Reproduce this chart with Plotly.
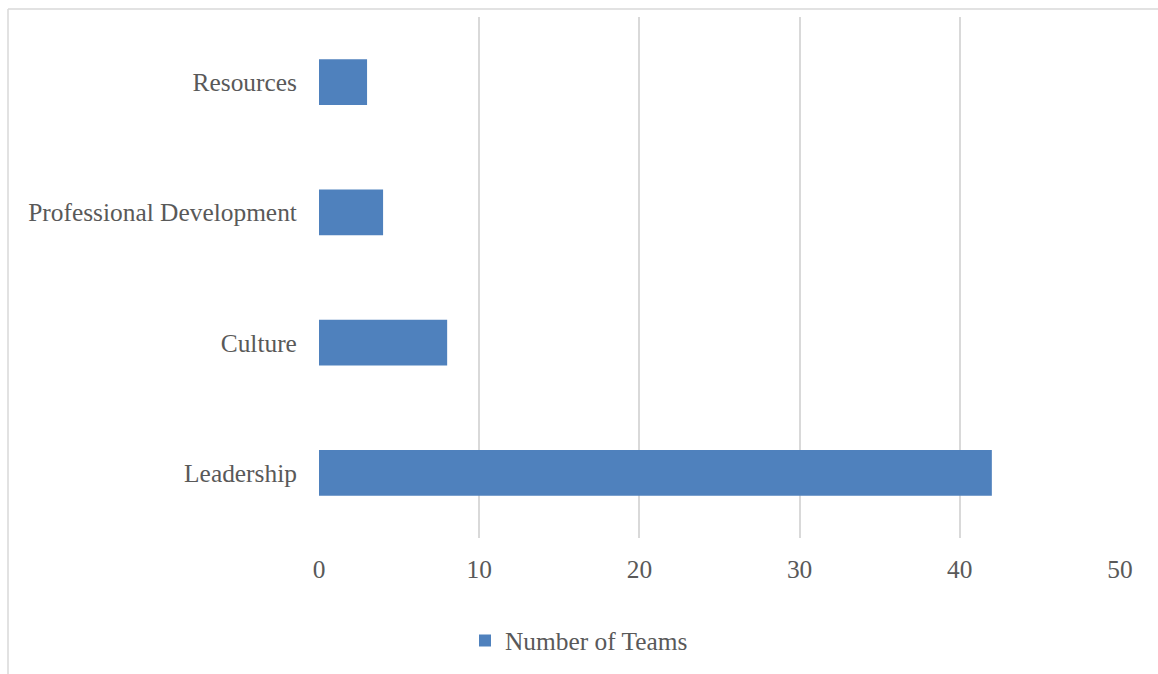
import plotly.graph_objects as go

categories = ["Leadership", "Culture", "Professional Development", "Resources"]
values = [42, 8, 4, 3]
series_name = "Number of Teams"
x_ticks = [0, 10, 20, 30, 40, 50]

W, H = 1158, 674
L, R, T, B = 319, 38, 17, 136
pw, ph = W - L - R, H - T - B

def px_x(p):
    return (p - L) / pw

def px_y(p):
    return (H - B - p) / ph

fig = go.Figure()
fig.add_trace(go.Bar(
    y=categories, x=values, orientation="h", name=series_name,
    marker=dict(color="#4F81BD", line=dict(width=0)), width=0.35,
    showlegend=True,
))

font = "'Liberation Serif', serif"
fs = 25.4
fig.update_layout(
    width=W, height=H,
    margin=dict(l=L, r=R, t=T, b=B),
    paper_bgcolor="white", plot_bgcolor="white",
    font=dict(family=font, size=fs, color="#595959"),
    bargap=0.65,
    showlegend=True,
    legend=dict(orientation="h", xref="container", yref="container",
                x=0.5, xanchor="center", y=1 - 641 / H, yanchor="middle",
                font=dict(size=fs, color="#595959"), itemwidth=30),
    xaxis=dict(range=[0, 50], tickvals=x_ticks, showgrid=True,
               gridcolor="#D9D9D9", gridwidth=1.5, zeroline=False,
               showline=False, ticks="outside", ticklen=9,
               tickcolor="rgba(0,0,0,0)", fixedrange=True),
    yaxis=dict(categoryorder="array", categoryarray=categories,
               showgrid=False, zeroline=False, showline=False,
               ticks="outside", ticklen=16, tickcolor="rgba(0,0,0,0)",
               fixedrange=True),
    shapes=[
        dict(type="line", xref="paper", yref="paper",
             x0=px_x(8), x1=px_x(W + 5), y0=px_y(9), y1=px_y(9),
             line=dict(color="#D9D9D9", width=1.5)),
        dict(type="line", xref="paper", yref="paper",
             x0=px_x(8), x1=px_x(8), y0=px_y(9), y1=px_y(H + 5),
             line=dict(color="#D9D9D9", width=1.5)),
    ],
)

fig.write_html("out.html")
